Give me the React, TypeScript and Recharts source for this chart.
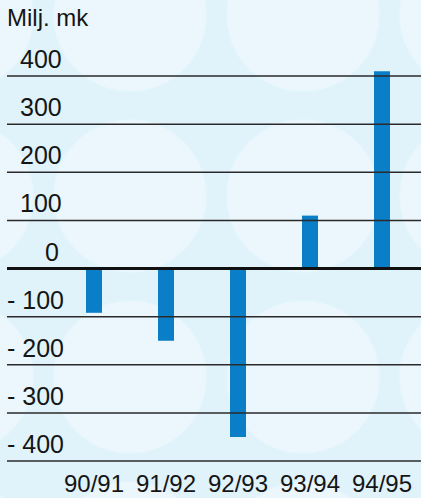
import { BarChart, Bar, XAxis, YAxis, ReferenceLine } from 'recharts'

const seasons = ['90/91', '91/92', '92/93', '93/94', '94/95']
const result = [-92, -150, -350, 110, 410]
const yTicks = [-400, -300, -200, -100, 0, 100, 200, 300, 400]

const data = seasons.map((season, i) => ({ season, value: result[i] }))

const textColor = '#151515'
const font = '"Liberation Sans", Arial, sans-serif'

function GridLabel({ viewBox, v }: any) {
  if (!viewBox) return null
  const label = v < 0 ? `- ${Math.abs(v)}` : `${v}`
  const x = v < 0 ? 7 : v === 0 ? 45 : 20
  return (
    <text x={x} y={viewBox.y - 8} fontSize={25} fill={textColor} fontFamily={font} textAnchor="start">
      {label}
    </text>
  )
}

function XTick({ x, y, payload }: any) {
  return (
    <text x={x} y={y + 31} fontSize={24} fill={textColor} fontFamily={font} textAnchor="middle">
      {payload.value}
    </text>
  )
}

export default function App() {
  return (
    <div
      style={{
        position: 'absolute',
        left: 0,
        top: 0,
        width: 421,
        height: 498,
        backgroundColor: '#e0f3fb',
        backgroundImage: 'radial-gradient(circle 77px at center, #ecf7fd 98%, rgba(236,247,253,0) 100%)',
        backgroundSize: '173px 181px',
        backgroundPosition: '43.5px -75.5px',
        overflow: 'hidden',
      }}
    >
      <div
        style={{
          position: 'absolute',
          left: 7,
          top: 6,
          fontFamily: font,
          fontSize: 24,
          lineHeight: '24px',
          color: textColor,
        }}
      >
        Milj. mk
      </div>
      <BarChart
        width={421}
        height={498}
        data={data}
        margin={{ top: 52, right: 0, left: 7, bottom: 0 }}
      >
        <XAxis
          dataKey="season"
          axisLine={false}
          tickLine={false}
          tickSize={0}
          tickMargin={0}
          height={37}
          padding={{ left: 51, right: 3 }}
          tick={<XTick />}
          interval={0}
        />
        <YAxis hide width={0} domain={[-400, 450]} ticks={yTicks} />
        {yTicks.map((v) => (
          <ReferenceLine
            key={v}
            y={v}
            stroke={v === 0 ? '#111' : '#2a2a2a'}
            strokeWidth={v === 0 ? 3 : 1.5}
            label={<GridLabel v={v} />}
          />
        ))}
        <Bar dataKey="value" fill="#0a7fc8" barSize={16} isAnimationActive={false} />
      </BarChart>
    </div>
  )
}
